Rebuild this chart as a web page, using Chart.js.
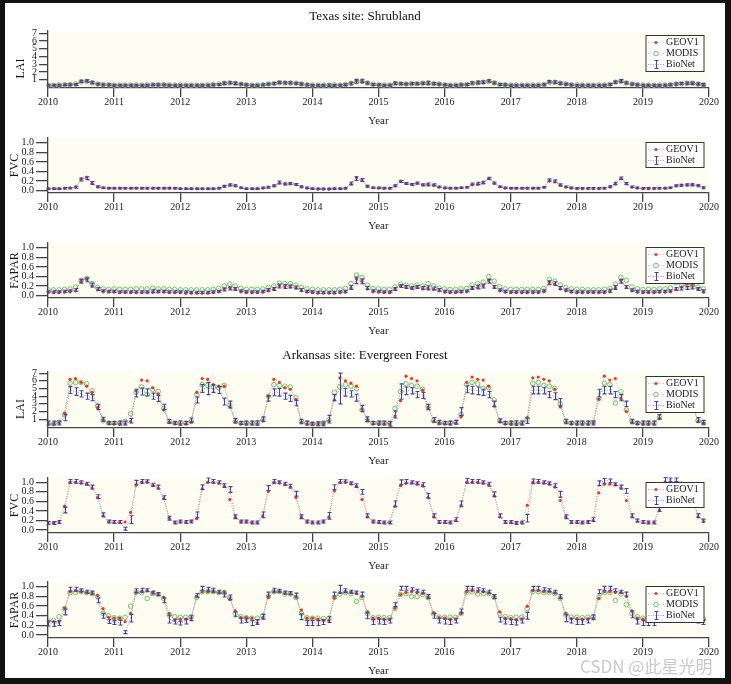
<!DOCTYPE html>
<html>
<head>
<meta charset="utf-8">
<script src="https://cdn.jsdelivr.net/npm/chart.js@4.4.1/dist/chart.umd.min.js"></script>
<style>
  html, body { margin: 0; padding: 0; background: #121212; }
  #page { position: relative; width: 731px; height: 684px; overflow: hidden; }
  #sheet { position: absolute; left: 5px; top: 3px; width: 720px; height: 675px; background: #fff; }
  canvas { position: absolute; left: 0; }
  .site { position: absolute; left: 5px; width: 720px; text-align: center;
          font: 13px "Liberation Serif", serif; color: #111; }
  #mark { position: absolute; left: 580px; top: 653px; font: 17px "Noto Sans CJK SC", sans-serif;
          color: #c9c9c9; white-space: nowrap; }
</style>
</head>
<body>
<div id="page">
  <div id="sheet"></div>
  <canvas id="txLai" width="731" height="109" style="top:19px"></canvas>
  <canvas id="txFvc" width="731" height="107" style="top:126px"></canvas>
  <canvas id="txFap" width="731" height="107" style="top:231px"></canvas>
  <canvas id="arLai" width="731" height="108" style="top:360px"></canvas>
  <canvas id="arFvc" width="731" height="107" style="top:466px"></canvas>
  <canvas id="arFap" width="731" height="108" style="top:570px"></canvas>
  <div class="site" style="top:8px">Texas site: Shrubland</div>
  <div class="site" style="top:347px">Arkansas site: Evergreen Forest</div>
  <div id="mark">CSDN @此星光明</div>
</div>
<script>
// axes
const startYear = 2010;
const yearTicks = [2010, 2011, 2012, 2013, 2014, 2015, 2016, 2017, 2018, 2019, 2020];
const laiTicks = [1, 2, 3, 4, 5, 6, 7];
const laiTickLabels = ['1', '2', '3', '4', '5', '6', '7'];
const fracTicks = [0, 0.2, 0.4, 0.6, 0.8, 1.0];
const fracTickLabels = ['0.0', '0.2', '0.4', '0.6', '0.8', '1.0'];

// Texas site: Shrubland (monthly, Jan 2010 - Dec 2019)
const txLaiGeo = [
  .28,.28,.3,.33,.35,.42,.78,.88,.62,.42,.33,.3,
  .28,.28,.28,.28,.28,.28,.3,.33,.33,.32,.3,.28,
  .27,.27,.27,.27,.28,.3,.33,.42,.58,.62,.52,.42,
  .32,.28,.28,.33,.42,.52,.68,.62,.58,.52,.42,.32,
  .28,.27,.27,.28,.28,.3,.35,.62,.85,.82,.55,.38,
  .32,.28,.3,.58,.52,.45,.48,.5,.55,.58,.48,.42,
  .32,.28,.28,.33,.38,.58,.62,.68,.88,.58,.38,.32,
  .28,.28,.28,.28,.28,.3,.38,.78,.68,.52,.42,.32,
  .28,.28,.28,.28,.28,.3,.42,.72,.88,.58,.42,.32,
  .28,.28,.28,.28,.3,.35,.45,.52,.55,.52,.42,.32
];
const txLaiMod = [
  .3,.3,.32,.35,.38,.45,.75,.8,.6,.45,.38,.35,
  .32,.32,.32,.32,.32,.32,.33,.35,.35,.35,.33,.32,
  .3,.3,.3,.3,.32,.33,.38,.45,.55,.6,.52,.45,
  .35,.32,.32,.36,.45,.52,.62,.6,.6,.55,.45,.36,
  .32,.3,.3,.3,.32,.32,.38,.55,.75,.8,.58,.42,
  .36,.32,.32,.5,.5,.46,.5,.5,.55,.58,.5,.45,
  .36,.32,.32,.36,.4,.55,.62,.68,.8,.6,.42,.36,
  .32,.32,.3,.3,.32,.32,.38,.7,.68,.55,.45,.36,
  .32,.3,.3,.3,.32,.33,.4,.68,.8,.6,.45,.36,
  .32,.3,.3,.32,.32,.36,.45,.5,.55,.55,.45,.36
];
const txLaiBio = [
  .3,.3,.3,.35,.35,.4,.8,.85,.65,.45,.35,.35,
  .3,.3,.3,.3,.3,.3,.3,.35,.35,.35,.3,.3,
  .3,.3,.3,.3,.3,.3,.35,.4,.55,.6,.55,.45,
  .35,.3,.3,.35,.45,.5,.65,.6,.6,.55,.45,.35,
  .3,.3,.3,.3,.3,.3,.35,.5,.8,.85,.6,.4,
  .35,.3,.3,.55,.5,.45,.5,.5,.55,.6,.5,.45,
  .35,.3,.3,.35,.4,.6,.65,.7,.85,.6,.4,.35,
  .3,.3,.3,.3,.3,.3,.35,.75,.7,.55,.45,.35,
  .3,.3,.3,.3,.3,.3,.4,.7,.85,.6,.45,.35,
  .3,.3,.3,.3,.3,.35,.45,.5,.55,.55,.45,.35
];
const txLaiErr = [
  .12,.12,.12,.12,.12,.12,.15,.15,.15,.12,.12,.12,
  .12,.12,.12,.12,.12,.12,.12,.12,.12,.12,.12,.12,
  .12,.12,.12,.12,.12,.12,.12,.12,.15,.15,.15,.12,
  .12,.12,.12,.12,.12,.15,.15,.15,.15,.12,.15,.12,
  .12,.12,.12,.15,.12,.12,.12,.15,.25,.22,.15,.12,
  .12,.12,.12,.15,.12,.12,.15,.12,.15,.22,.15,.12,
  .12,.12,.12,.12,.12,.15,.18,.18,.15,.15,.12,.12,
  .12,.12,.12,.12,.12,.12,.12,.15,.18,.15,.12,.12,
  .12,.12,.12,.12,.12,.12,.12,.15,.18,.15,.12,.12,
  .12,.12,.12,.12,.12,.12,.15,.15,.15,.15,.15,.15
];
const txFvcGeo = [
  .04,.04,.04,.05,.06,.08,.24,.28,.15,.08,.06,.05,
  .05,.05,.05,.05,.05,.05,.05,.05,.05,.05,.05,.05,
  .04,.04,.04,.04,.04,.04,.04,.05,.09,.11,.1,.06,
  .04,.04,.04,.05,.07,.1,.16,.14,.14,.13,.08,.05,
  .04,.03,.03,.03,.04,.04,.05,.14,.27,.21,.09,.06,
  .05,.05,.05,.1,.2,.15,.13,.15,.12,.13,.11,.07,
  .05,.05,.05,.06,.07,.12,.13,.16,.25,.15,.08,.05,
  .05,.05,.05,.05,.05,.05,.07,.2,.18,.11,.07,.05,
  .04,.04,.04,.04,.04,.05,.08,.14,.25,.14,.07,.05,
  .04,.04,.04,.05,.05,.06,.1,.11,.12,.13,.11,.06
];
const txFvcBio = [
  .04,.04,.04,.05,.05,.07,.23,.26,.16,.08,.06,.05,
  .05,.05,.05,.05,.05,.05,.05,.05,.05,.05,.05,.05,
  .04,.04,.04,.04,.04,.04,.04,.05,.09,.12,.1,.06,
  .04,.04,.04,.06,.07,.1,.17,.14,.15,.13,.08,.06,
  .04,.04,.04,.04,.04,.04,.05,.15,.25,.22,.09,.06,
  .06,.05,.05,.1,.19,.15,.13,.16,.12,.13,.12,.08,
  .06,.05,.05,.06,.07,.14,.15,.17,.26,.16,.08,.06,
  .05,.05,.05,.05,.05,.05,.07,.22,.2,.12,.08,.06,
  .05,.05,.05,.05,.05,.05,.08,.15,.26,.15,.08,.06,
  .05,.05,.05,.05,.05,.06,.1,.11,.12,.12,.1,.06
];
const txFvcErr = [
  .015,.015,.015,.015,.015,.02,.03,.03,.03,.02,.015,.015,
  .015,.015,.015,.015,.015,.015,.015,.015,.015,.015,.015,.015,
  .015,.015,.015,.015,.015,.015,.015,.015,.02,.02,.02,.015,
  .015,.015,.015,.015,.02,.02,.03,.02,.02,.02,.02,.015,
  .015,.015,.015,.015,.015,.015,.015,.03,.04,.03,.02,.015,
  .015,.015,.015,.02,.02,.02,.02,.02,.02,.03,.02,.015,
  .015,.015,.015,.015,.015,.02,.025,.025,.02,.02,.015,.015,
  .015,.015,.015,.015,.015,.015,.015,.025,.025,.02,.015,.015,
  .015,.015,.015,.015,.015,.015,.02,.025,.025,.02,.015,.015,
  .015,.015,.015,.015,.015,.015,.02,.02,.02,.02,.02,.02
];
const txFapGeo = [
  .06,.06,.06,.07,.08,.1,.3,.35,.2,.12,.08,.07,
  .07,.06,.06,.06,.06,.06,.06,.07,.07,.07,.06,.06,
  .06,.05,.05,.05,.05,.05,.06,.08,.14,.17,.13,.08,
  .06,.06,.06,.07,.1,.13,.2,.18,.18,.16,.1,.07,
  .06,.05,.05,.05,.05,.06,.07,.16,.35,.3,.14,.08,
  .07,.06,.06,.13,.2,.17,.15,.17,.14,.15,.13,.1,
  .07,.06,.06,.07,.08,.15,.17,.2,.32,.18,.1,.07,
  .06,.06,.06,.06,.06,.06,.08,.28,.24,.14,.1,.07,
  .06,.06,.06,.06,.06,.06,.08,.16,.32,.17,.1,.07,
  .06,.06,.06,.07,.07,.08,.13,.18,.24,.24,.14,.08
];
const txFapMod = [
  .12,.12,.12,.13,.14,.18,.32,.36,.25,.17,.14,.13,
  .14,.13,.13,.13,.14,.14,.14,.15,.14,.14,.13,.13,
  .12,.12,.12,.12,.12,.12,.13,.15,.2,.24,.2,.15,
  .13,.13,.13,.14,.17,.2,.26,.25,.25,.22,.17,.14,
  .13,.12,.12,.12,.12,.13,.15,.25,.43,.38,.22,.15,
  .14,.13,.13,.18,.24,.22,.2,.22,.2,.25,.2,.16,
  .14,.13,.13,.14,.15,.22,.25,.28,.4,.3,.18,.14,
  .13,.13,.13,.13,.13,.13,.15,.34,.3,.22,.17,.14,
  .13,.13,.12,.12,.12,.13,.15,.24,.38,.32,.18,.14,
  .13,.13,.13,.14,.14,.16,.27,.22,.22,.22,.18,.14
];
const txFapBio = [
  .08,.08,.08,.09,.1,.12,.3,.33,.22,.14,.1,.09,
  .09,.08,.08,.08,.08,.08,.08,.09,.09,.09,.08,.08,
  .08,.08,.07,.07,.07,.07,.08,.09,.13,.15,.14,.1,
  .08,.08,.08,.09,.12,.14,.2,.19,.19,.17,.12,.09,
  .08,.07,.07,.07,.07,.08,.09,.17,.32,.3,.16,.1,
  .09,.08,.08,.14,.2,.18,.16,.18,.16,.16,.15,.12,
  .09,.08,.08,.09,.1,.16,.18,.2,.3,.18,.12,.09,
  .08,.08,.08,.08,.08,.08,.1,.27,.25,.16,.12,.09,
  .08,.08,.08,.08,.08,.08,.1,.17,.3,.18,.12,.09,
  .08,.08,.08,.09,.09,.1,.14,.15,.16,.17,.14,.09
];
const txFapErr = [
  .02,.02,.02,.02,.02,.03,.04,.04,.04,.03,.02,.02,
  .02,.02,.02,.02,.02,.02,.02,.03,.02,.02,.02,.02,
  .02,.02,.02,.02,.02,.02,.02,.02,.03,.03,.03,.02,
  .02,.02,.02,.02,.03,.03,.04,.04,.03,.03,.03,.02,
  .02,.02,.02,.02,.02,.02,.02,.04,.07,.05,.03,.02,
  .02,.02,.02,.03,.03,.03,.03,.03,.03,.04,.03,.03,
  .02,.02,.02,.02,.02,.03,.04,.04,.04,.03,.02,.02,
  .02,.02,.02,.02,.02,.02,.02,.04,.04,.03,.02,.02,
  .02,.02,.02,.02,.02,.02,.03,.04,.04,.03,.02,.02,
  .02,.02,.02,.02,.02,.02,.03,.03,.03,.03,.03,.03
];

// Arkansas site: Evergreen Forest
const arLaiGeo = [
  .4,.4,.5,1.8,6.2,6.3,5.8,5.3,4.5,2.5,.9,.5,
  .4,.4,.4,.7,4.7,6.1,6.0,5.1,4.3,2.2,.6,.5,
  .4,.4,.6,4.5,6.3,6.2,5.5,5.3,5.3,2.6,.7,.4,
  .4,.4,.4,.8,4.0,6.2,5.8,5.1,4.9,3.6,.6,.4,
  .4,.4,.4,.8,3.5,6.4,6.0,5.7,5.3,2.3,.9,.4,
  .4,.4,.4,1.4,3.4,6.6,6.3,6.0,4.8,2.5,.7,.5,
  .4,.4,.5,1.3,5.8,6.5,6.2,6.1,5.3,2.7,.7,.4,
  .4,.4,.4,1.2,6.4,6.5,6.2,6.0,4.9,2.6,.6,.4,
  .4,.4,.4,.5,3.6,6.6,6.1,6.3,3.7,2.0,.6,.4,
  .4,.4,.4,1.1,4.5,6.2,6.0,5.5,4.6,2.6,.7,.5
];
const arLaiMod = [
  .4,.4,.6,1.6,5.7,5.8,5.8,5.6,4.7,2.7,.8,.5,
  .5,.5,.7,1.7,4.5,5.2,4.2,4.9,4.6,2.4,.7,.5,
  .5,.5,.7,4.2,5.5,5.4,5.2,5.1,5.4,2.8,.7,.5,
  .5,.5,.5,.9,4.0,5.5,5.4,5.3,5.2,3.8,.7,.5,
  .4,.4,.5,.9,4.5,5.2,5.5,5.3,5.0,2.2,.8,.5,
  .5,.5,.5,2.4,4.6,5.6,5.4,5.3,4.9,2.6,.8,.5,
  .5,.5,.6,1.6,5.5,5.8,5.6,5.0,5.1,3.5,.8,.5,
  .5,.5,.5,1.0,5.7,5.8,5.4,5.3,5.0,3.0,.7,.5,
  .5,.5,.5,.6,3.7,5.7,5.5,3.1,4.6,2.2,.7,.5,
  .5,.5,.5,1.2,4.2,5.5,5.3,5.0,4.5,2.7,.8,.5
];
const arLaiBio = [
  .5,.5,.5,1.2,4.8,4.6,4.3,4.0,3.8,2.6,1.0,.5,
  .5,.5,.5,.8,4.4,4.6,4.5,4.0,3.7,2.6,.7,.5,
  .5,.5,.9,3.5,5.0,5.0,5.0,4.8,3.3,2.9,.8,.5,
  .5,.5,.5,1.0,3.7,4.5,4.5,4.0,3.7,3.1,.7,.5,
  .4,.4,.4,1.0,3.8,5.0,4.5,4.3,3.8,2.4,1.0,.5,
  .5,.5,.4,1.6,4.6,4.7,4.7,4.2,4.1,2.6,.9,.6,
  .5,.5,.6,2.0,4.9,4.8,4.7,4.5,4.2,3.0,.8,.5,
  .5,.5,.5,.8,4.8,4.8,4.7,4.2,4.0,3.2,.7,.5,
  .5,.5,.5,.5,4.4,4.8,4.8,4.2,3.8,3.0,.7,.5,
  .5,.5,.5,1.3,3.5,4.5,4.5,4.2,3.8,2.8,.9,.6
];
const arLaiErr = [
  .25,.25,.25,.4,.45,.5,.4,.4,.4,.35,.25,.2,
  .2,.25,.25,.3,.5,.45,.45,.4,.4,.35,.25,.2,
  .3,.2,.25,.4,.5,.8,.5,.45,.45,.45,.3,.2,
  .25,.25,.3,.3,.35,.45,.5,.4,.4,.35,.3,.25,
  .2,.25,.25,.5,.4,2.0,.5,.4,.45,.4,.3,.2,
  .25,.25,.3,.45,1.0,.5,.4,.4,.4,.35,.3,.25,
  .2,.25,.25,.5,.45,.5,.5,.4,.4,.35,.25,.2,
  .25,.3,.25,.35,.5,.5,.4,.4,.45,.5,.3,.2,
  .25,.25,.25,.25,.5,.5,.5,.4,.4,.35,.3,.2,
  .25,.25,.25,.3,.5,.5,.5,.4,.4,.4,.3,.25
];
const arFvcGeo = [
  .15,.15,.17,.5,1.0,1.0,.98,.96,.88,.68,.3,.17,
  .16,.16,.17,.37,.94,1.0,1.0,.93,.88,.66,.25,.16,
  .17,.16,.18,.24,.86,1.0,1.0,.98,.92,.64,.27,.17,
  .17,.16,.16,.3,.81,1.0,.99,.95,.9,.68,.27,.17,
  .16,.16,.17,.27,.82,1.0,1.0,.97,.92,.64,.28,.17,
  .16,.16,.16,.5,.93,.98,.98,.96,.93,.68,.28,.16,
  .16,.16,.2,.52,1.0,1.0,1.0,.98,.95,.72,.28,.16,
  .16,.15,.16,.52,1.0,1.0,.98,.96,.9,.62,.27,.16,
  .16,.16,.17,.2,.78,.96,.96,.95,.88,.62,.28,.18,
  .16,.16,.16,.42,1.0,1.0,1.0,.95,.88,.68,.28,.18
];
const arFvcBio = [
  .15,.15,.17,.42,1.02,1.02,1.0,.97,.9,.7,.32,.18,
  .17,.17,.03,.22,1.0,1.02,1.02,.95,.9,.68,.25,.16,
  .18,.17,.18,.32,.9,1.04,1.02,1.0,.93,.85,.28,.18,
  .18,.16,.16,.32,.88,1.02,1.0,.97,.92,.76,.28,.18,
  .16,.16,.18,.3,.9,1.02,1.02,.98,.93,.8,.3,.18,
  .17,.16,.16,.55,1.0,1.02,1.0,.98,.95,.72,.3,.17,
  .17,.16,.22,.55,1.03,1.02,1.02,1.0,.96,.75,.3,.17,
  .17,.15,.16,.25,1.02,1.02,1.0,.98,.93,.75,.28,.17,
  .17,.16,.17,.22,.98,1.03,1.03,.96,.9,.82,.3,.2,
  .17,.16,.16,.45,1.05,1.05,1.05,.97,.9,.7,.3,.2
];
const arFvcErr = [
  .03,.03,.03,.06,.04,.04,.03,.03,.04,.04,.04,.03,
  .03,.03,.03,.08,.04,.04,.03,.03,.04,.04,.04,.03,
  .03,.03,.03,.06,.05,.05,.04,.03,.04,.06,.04,.03,
  .03,.03,.03,.06,.05,.04,.03,.03,.04,.05,.04,.03,
  .03,.03,.03,.07,.05,.04,.03,.03,.04,.05,.04,.03,
  .03,.03,.03,.06,.05,.04,.03,.03,.04,.05,.04,.03,
  .03,.03,.04,.06,.05,.04,.04,.03,.04,.05,.04,.03,
  .03,.03,.03,.08,.05,.04,.03,.03,.04,.06,.04,.03,
  .03,.03,.03,.04,.05,.05,.04,.03,.04,.05,.04,.03,
  .03,.03,.03,.06,.05,.04,.04,.03,.04,.05,.04,.03
];
const arFapGeo = [
  .28,.28,.27,.56,.9,.92,.9,.88,.86,.82,.55,.37,
  .35,.35,.28,.45,.88,.9,.92,.87,.84,.78,.45,.3,
  .33,.33,.35,.8,.9,.9,.9,.88,.9,.75,.5,.36,
  .37,.35,.25,.36,.78,.9,.9,.86,.85,.8,.52,.35,
  .35,.33,.3,.3,.77,.88,.9,.88,.86,.8,.48,.35,
  .35,.33,.32,.56,.84,.88,.9,.88,.86,.78,.46,.36,
  .35,.33,.33,.45,.9,.92,.9,.9,.87,.8,.48,.35,
  .34,.32,.33,.6,.92,.92,.9,.9,.87,.77,.45,.34,
  .34,.33,.33,.35,.76,.9,.9,.88,.88,.8,.5,.35,
  .33,.32,.32,.42,.8,.9,.9,.88,.84,.62,.35,.3
];
const arFapMod = [
  .3,.3,.38,.55,.88,.88,.9,.88,.86,.8,.45,.4,
  .36,.35,.37,.6,.88,.88,.76,.86,.84,.76,.42,.38,
  .37,.37,.38,.78,.9,.9,.9,.88,.88,.76,.45,.38,
  .36,.35,.35,.4,.8,.9,.9,.85,.85,.78,.45,.36,
  .35,.35,.34,.35,.78,.85,.88,.86,.7,.78,.45,.36,
  .37,.36,.36,.55,.84,.86,.8,.8,.84,.78,.44,.37,
  .37,.37,.37,.45,.88,.9,.85,.86,.86,.78,.45,.38,
  .36,.37,.37,.55,.9,.9,.88,.88,.86,.76,.43,.37,
  .37,.36,.37,.38,.78,.88,.88,.72,.85,.63,.45,.38,
  .35,.35,.35,.42,.8,.88,.88,.85,.82,.6,.38,.33
];
const arFapBio = [
  .24,.23,.25,.48,.95,.95,.93,.9,.88,.72,.4,.28,
  .26,.26,.06,.35,.92,.93,.93,.88,.85,.72,.33,.28,
  .25,.28,.35,.82,.97,.95,.93,.9,.83,.78,.43,.3,
  .3,.25,.27,.38,.85,.93,.92,.88,.87,.82,.38,.25,
  .25,.25,.27,.32,.85,.95,.92,.9,.88,.85,.4,.27,
  .28,.27,.3,.63,.97,.97,.95,.92,.9,.8,.4,.3,
  .28,.27,.3,.5,.97,.97,.95,.93,.9,.8,.32,.28,
  .27,.26,.3,.4,.97,.97,.95,.93,.9,.8,.35,.3,
  .27,.27,.3,.37,.9,.97,.97,.93,.9,.85,.43,.28,
  .25,.25,.25,.45,.85,.95,.93,.9,.85,.6,.3,.27
];
const arFapErr = [
  .05,.05,.05,.06,.04,.04,.03,.03,.03,.05,.05,.04,
  .04,.05,.03,.08,.04,.04,.03,.03,.03,.05,.08,.05,
  .04,.05,.05,.04,.04,.04,.04,.03,.04,.05,.05,.05,
  .04,.05,.05,.05,.04,.04,.03,.03,.03,.05,.06,.05,
  .05,.05,.05,.06,.04,.08,.04,.03,.03,.04,.06,.05,
  .05,.05,.05,.04,.04,.04,.03,.03,.03,.04,.05,.05,
  .05,.05,.05,.04,.04,.04,.03,.03,.03,.04,.05,.05,
  .05,.05,.05,.07,.04,.04,.03,.03,.03,.04,.07,.05,
  .05,.05,.05,.05,.04,.04,.04,.03,.03,.04,.07,.05,
  .05,.05,.05,.05,.04,.04,.04,.03,.03,.04,.05,.05
];

const axisColor = '#444';
const textColor = '#1a1a1a';
const plotBg = '#fefdf1';
Chart.defaults.font.family = '"Liberation Serif", serif';
Chart.defaults.color = textColor;

// x position of each monthly sample
const months = txLaiBio.map((v, i) => startYear + i / 12);
function pts(values) {
  return values.map((v, i) => ({ x: months[i], y: v }));
}

function geoSeries(values) {
  return {
    label: 'GEOV1', data: pts(values),
    borderColor: 'rgba(225,120,110,0.8)', borderWidth: 0.8, borderDash: [1, 1.5],
    pointRadius: 1.6, pointBorderWidth: 0, pointBackgroundColor: '#e3392a',
    marker: 'dot'
  };
}
function modSeries(values) {
  return {
    label: 'MODIS', data: pts(values),
    borderColor: 'rgba(120,195,110,0.8)', borderWidth: 0.8, borderDash: [1, 1.5],
    pointRadius: 2.3, pointBorderWidth: 1, pointBorderColor: '#74c46b',
    pointBackgroundColor: 'rgba(0,0,0,0)',
    marker: 'ring'
  };
}
function bioSeries(values, errors) {
  return {
    label: 'BioNet', data: pts(values), errors: errors,
    borderColor: 'rgba(95,95,175,0.8)', borderWidth: 0.8, borderDash: [1, 1.5],
    pointRadius: 0, barColor: '#4343a6',
    marker: 'bar'
  };
}

function drawBar(ctx, px, hi, lo) {
  ctx.beginPath();
  ctx.moveTo(px, hi); ctx.lineTo(px, lo);
  ctx.moveTo(px - 2, hi); ctx.lineTo(px + 2, hi);
  ctx.moveTo(px - 2, lo); ctx.lineTo(px + 2, lo);
  ctx.stroke();
}

// background, error bars and the boxed legend
const decorations = {
  id: 'decorations',
  beforeDraw(chart) {
    const { ctx, chartArea: a } = chart;
    ctx.save();
    ctx.fillStyle = plotBg;
    ctx.fillRect(a.left, a.top, a.right - a.left, a.bottom - a.top);
    ctx.restore();
  },
  afterDatasetsDraw(chart) {
    const { ctx, chartArea: a, scales: { x, y } } = chart;
    const items = chart.data.datasets;

    items.forEach(ds => {
      if (!ds.errors) return;
      ctx.save();
      ctx.strokeStyle = ds.barColor;
      ctx.lineWidth = 1.1;
      ds.data.forEach((p, i) => {
        const px = Math.round(x.getPixelForValue(p.x)) + 0.5;
        drawBar(ctx, px, y.getPixelForValue(p.y + ds.errors[i]), y.getPixelForValue(p.y - ds.errors[i]));
      });
      ctx.restore();
    });

    const rowH = 11;
    const w = 58, h = items.length * rowH + 3;
    const left = a.right - 5 - w, top = a.top + 4.5;
    ctx.save();
    ctx.fillStyle = '#ffffff';
    ctx.fillRect(left, top, w, h);
    ctx.strokeStyle = '#333';
    ctx.lineWidth = 1;
    ctx.strokeRect(left, top, w, h);
    ctx.font = '10px "Liberation Serif", serif';
    ctx.textBaseline = 'middle';
    items.forEach((ds, i) => {
      const cy = top + 7 + i * rowH;
      const mx = left + 10;
      ctx.setLineDash(ds.borderDash);
      ctx.strokeStyle = ds.borderColor;
      ctx.lineWidth = ds.borderWidth;
      ctx.beginPath();
      ctx.moveTo(left + 2, cy); ctx.lineTo(left + 18, cy);
      ctx.stroke();
      ctx.setLineDash([]);
      if (ds.marker === 'dot') {
        ctx.fillStyle = ds.pointBackgroundColor;
        ctx.beginPath(); ctx.arc(mx, cy, ds.pointRadius, 0, Math.PI * 2); ctx.fill();
      } else if (ds.marker === 'ring') {
        ctx.strokeStyle = ds.pointBorderColor;
        ctx.lineWidth = ds.pointBorderWidth;
        ctx.beginPath(); ctx.arc(mx, cy, ds.pointRadius, 0, Math.PI * 2); ctx.stroke();
      } else {
        ctx.strokeStyle = ds.barColor;
        ctx.lineWidth = 1.1;
        drawBar(ctx, Math.round(mx) + 0.5, cy - 4, cy + 4);
      }
      ctx.fillStyle = textColor;
      ctx.fillText(ds.label, left + 20, cy);
    });
    ctx.restore();
  }
};

function makePanel(id, opt) {
  new Chart(document.getElementById(id), {
    type: 'line',
    data: { datasets: opt.series },
    options: {
      responsive: false,
      animation: false,
      events: [],
      layout: { padding: { left: opt.padLeft, right: 22, top: 12, bottom: 0 } },
      plugins: { legend: { display: false }, tooltip: { enabled: false } },
      scales: {
        x: {
          type: 'linear', min: 2010, max: 2020,
          afterBuildTicks: s => { s.ticks = yearTicks.map(v => ({ value: v })); },
          afterFit: s => { s.height = 40; },
          ticks: { callback: v => String(v), font: { size: 10 }, padding: -1, maxRotation: 0, autoSkip: false },
          grid: { drawOnChartArea: false, tickLength: 9, color: axisColor, lineWidth: 1.3 },
          border: { display: true, color: axisColor, width: 1.3 },
          title: { display: true, text: 'Year', font: { size: 11 }, padding: { top: 0, bottom: 0 } }
        },
        y: {
          min: opt.yMin, max: opt.yMax,
          afterBuildTicks: s => { s.ticks = opt.yTicks.map(v => ({ value: v })); },
          afterFit: s => { s.width = 48 - opt.padLeft; },
          ticks: { callback: (v, i) => opt.yTickLabels[i], font: { size: 10 }, padding: 2, autoSkip: false },
          grid: { drawOnChartArea: false, tickLength: opt.yTickLength, color: axisColor, lineWidth: 1.3 },
          border: { display: true, color: axisColor, width: 1.3 },
          title: { display: true, text: opt.yTitle, font: { size: 12 }, padding: { top: 4, bottom: 0 } }
        }
      }
    },
    plugins: [decorations]
  });
}

// LAI label sits a little below the axis middle in the original, hence the trailing spaces
makePanel('txLai', {
  yMin: -0.06, yMax: 7.3, yTicks: laiTicks, yTickLabels: laiTickLabels, yTitle: 'LAI\u2003\u2002',
  padLeft: 10, yTickLength: 9,
  series: [geoSeries(txLaiGeo), modSeries(txLaiMod), bioSeries(txLaiBio, txLaiErr)]
});
makePanel('txFvc', {
  yMin: -0.05, yMax: 1.1, yTicks: fracTicks, yTickLabels: fracTickLabels, yTitle: 'FVC',
  padLeft: 4, yTickLength: 12,
  series: [geoSeries(txFvcGeo), bioSeries(txFvcBio, txFvcErr)]
});
makePanel('txFap', {
  yMin: -0.05, yMax: 1.1, yTicks: fracTicks, yTickLabels: fracTickLabels, yTitle: 'FAPAR',
  padLeft: 4, yTickLength: 12,
  series: [geoSeries(txFapGeo), modSeries(txFapMod), bioSeries(txFapBio, txFapErr)]
});
makePanel('arLai', {
  yMin: -0.15, yMax: 7.15, yTicks: laiTicks, yTickLabels: laiTickLabels, yTitle: 'LAI\u2003\u2002',
  padLeft: 10, yTickLength: 9,
  series: [geoSeries(arLaiGeo), modSeries(arLaiMod), bioSeries(arLaiBio, arLaiErr)]
});
makePanel('arFvc', {
  yMin: -0.06, yMax: 1.09, yTicks: fracTicks, yTickLabels: fracTickLabels, yTitle: 'FVC',
  padLeft: 4, yTickLength: 12,
  series: [geoSeries(arFvcGeo), bioSeries(arFvcBio, arFvcErr)]
});
makePanel('arFap', {
  yMin: -0.06, yMax: 1.1, yTicks: fracTicks, yTickLabels: fracTickLabels, yTitle: 'FAPAR',
  padLeft: 4, yTickLength: 12,
  series: [geoSeries(arFapGeo), modSeries(arFapMod), bioSeries(arFapBio, arFapErr)]
});
</script>
</body>
</html>
